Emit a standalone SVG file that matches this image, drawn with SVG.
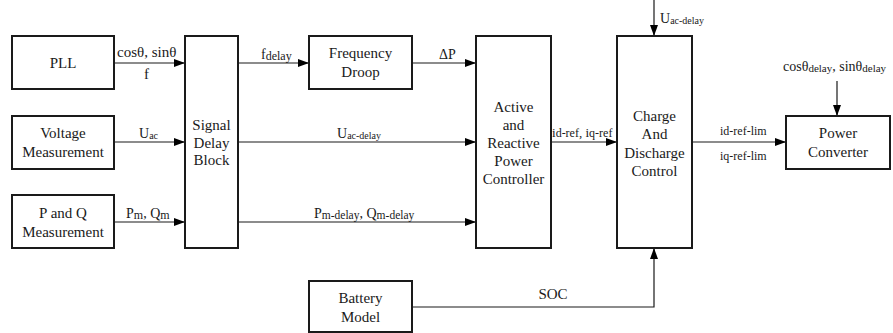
<svg xmlns="http://www.w3.org/2000/svg" width="893" height="333" viewBox="0 0 893 333" font-family="'Liberation Serif', 'Times New Roman', Times, serif">
<style>
.box{fill:#fff;stroke:#1a1a1a;stroke-width:2}
text{font-family:'Liberation Serif','Times New Roman',Times,serif}
.t{font-size:15px;fill:#1a1a1a;text-anchor:middle}
.l{font-size:14px;fill:#1a1a1a}
.s{font-size:10px}
.c{fill:none;stroke:#1a1a1a;stroke-width:1.2}
</style>
<defs>
<marker id="ah" markerUnits="userSpaceOnUse" markerWidth="12" markerHeight="8" refX="11" refY="4" orient="auto">
<path d="M0,0 L11,4 L0,8 z" fill="#000"/>
</marker>
</defs>
<rect width="893" height="333" fill="#fff"/>
<g id="connectors">
<line class="c" x1="114" y1="63" x2="185" y2="63" marker-end="url(#ah)"/>
<line class="c" x1="114" y1="142" x2="185" y2="142" marker-end="url(#ah)"/>
<line class="c" x1="114" y1="222" x2="185" y2="222" marker-end="url(#ah)"/>
<line class="c" x1="238" y1="63" x2="309" y2="63" marker-end="url(#ah)"/>
<line class="c" x1="412" y1="63" x2="476" y2="63" marker-end="url(#ah)"/>
<line class="c" x1="238" y1="142" x2="476" y2="142" marker-end="url(#ah)"/>
<line class="c" x1="238" y1="222" x2="476" y2="222" marker-end="url(#ah)"/>
<line class="c" x1="551" y1="142" x2="617" y2="142" marker-end="url(#ah)"/>
<line class="c" x1="654" y1="0" x2="654" y2="36" marker-end="url(#ah)"/>
<polyline class="c" points="412,307 654,307 654,248" marker-end="url(#ah)"/>
<line class="c" x1="692" y1="142" x2="786" y2="142" marker-end="url(#ah)"/>
<line class="c" x1="837" y1="81" x2="837" y2="116" marker-end="url(#ah)"/>
<text class="l" x="117" y="57" style="font-size:15px">cosθ, sinθ</text>
<text class="l" x="144" y="79" style="font-size:15px">f</text>
<text class="l" x="139" y="138">U<tspan class="s" dy="1">ac</tspan></text>
<text class="l" x="126" y="218">P<tspan style="font-size:12px" dy="1">m</tspan><tspan dy="-1">, Q</tspan><tspan style="font-size:12px" dy="1">m</tspan></text>
<text class="l" x="261" y="59">f<tspan style="font-size:12px" dy="1">delay</tspan></text>
<text class="l" x="439" y="59">ΔP</text>
<text class="l" x="337" y="138">U<tspan class="s" dy="1">ac-delay</tspan></text>
<text class="l" x="314" y="218">P<tspan style="font-size:11.5px" dy="1">m-delay</tspan><tspan dy="-1">, Q</tspan><tspan style="font-size:11.5px" dy="1">m-delay</tspan></text>
<text class="l" x="552" y="137" style="font-size:13px">i<tspan style="font-size:12px">d-ref</tspan>, i<tspan style="font-size:12px">q-ref</tspan></text>
<text class="l" x="660" y="23">U<tspan class="s" dy="1">ac-delay</tspan></text>
<text class="l" x="720" y="135" style="font-size:12px">id-ref-lim</text>
<text class="l" x="720" y="160" style="font-size:12px">iq-ref-lim</text>
<text class="l" x="783" y="71">cosθ<tspan style="font-size:11px" dy="1">delay</tspan><tspan dy="-1">, sinθ</tspan><tspan style="font-size:11px" dy="1">delay</tspan></text>
<text class="t" x="553" y="299">SOC</text>
</g>
<g id="pll"><rect class="box" x="12" y="36" width="102" height="53"/><text class="t" x="63" y="68">PLL</text></g>
<g id="voltage"><rect class="box" x="12" y="116" width="102" height="53"/><text class="t" x="63" y="138">Voltage</text><text class="t" x="63" y="157">Measurement</text></g>
<g id="pq"><rect class="box" x="12" y="195" width="102" height="53"/><text class="t" x="63" y="218">P and Q</text><text class="t" x="63" y="237">Measurement</text></g>
<g id="sdb"><rect class="box" x="185" y="36" width="53" height="212"/><text class="t" x="211.5" y="130">Signal</text><text class="t" x="211.5" y="148">Delay</text><text class="t" x="211.5" y="165">Block</text></g>
<g id="fd"><rect class="box" x="309" y="36" width="103" height="53"/><text class="t" x="360.5" y="58">Frequency</text><text class="t" x="360.5" y="77">Droop</text></g>
<g id="arpc"><rect class="box" x="476" y="36" width="75" height="212"/><text class="t" x="513.5" y="112">Active</text><text class="t" x="513.5" y="130">and</text><text class="t" x="513.5" y="148">Reactive</text><text class="t" x="513.5" y="166">Power</text><text class="t" x="513.5" y="184">Controller</text></g>
<g id="cdc"><rect class="box" x="617" y="36" width="75" height="212"/><text class="t" x="654.5" y="121">Charge</text><text class="t" x="654.5" y="139">And</text><text class="t" x="654.5" y="158">Discharge</text><text class="t" x="654.5" y="176">Control</text></g>
<g id="battery"><rect class="box" x="309" y="281" width="103" height="51"/><text class="t" x="360.5" y="303">Battery</text><text class="t" x="360.5" y="322">Model</text></g>
<g id="pc"><rect class="box" x="786" y="116" width="104" height="53"/><text class="t" x="838" y="138">Power</text><text class="t" x="838" y="157">Converter</text></g>
</svg>
